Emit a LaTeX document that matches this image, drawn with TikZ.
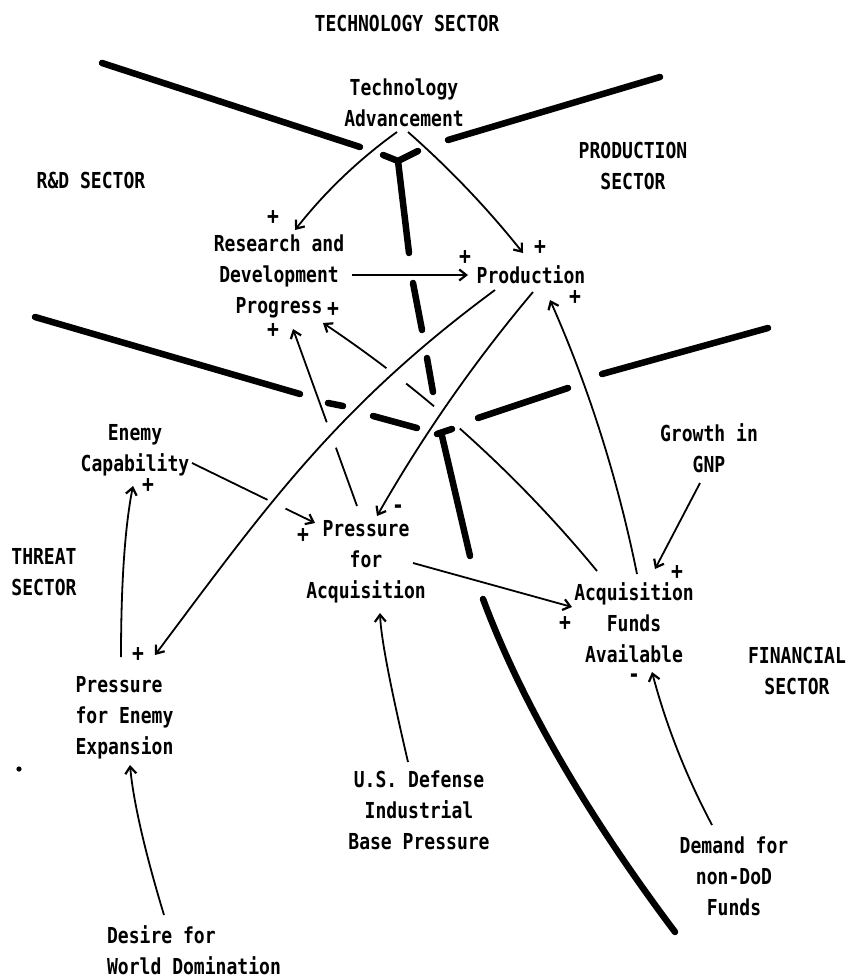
\documentclass[tikz,border=0pt]{standalone}
\usepackage{fontspec}
\newfontfamily\dm[FakeStretch=0.82]{DejaVu Sans Mono Bold}
\usetikzlibrary{arrows.meta,calc}
\tikzset{
  lbl/.style={font=\dm\fontsize{22}{31}\selectfont, align=center, inner sep=0pt},
  lbll/.style={lbl, align=left},
  sgn/.style={font=\dm\fontsize{24}{26}\selectfont, inner sep=0pt},
  link/.style={line width=1.8pt, -{Straight Barb[length=7pt,width=11pt,line width=2.2pt]}},
  wall/.style={line width=6.5pt, line cap=round, line join=round},
}
\begin{document}
\begin{tikzpicture}[x=1pt,y=-1pt]
\useasboundingbox (0,0) rectangle (851,979);

% ---- sector labels
\node[lbl] (techsec)   at (407,25)  {\strut TECHNOLOGY SECTOR};
\node[lbl] (rdsec)     at (91,182)  {\strut R\&D SECTOR};
\node[lbl] (prodsec)   at (633,168) {\strut PRODUCTION\\\strut SECTOR};
\node[lbl] (threatsec) at (44,574)  {\strut THREAT\\\strut SECTOR};
\node[lbl] (finsec)    at (797,673) {\strut FINANCIAL\\\strut SECTOR};

% ---- variables
\node[lbl]  (tech)   at (404,104.5) {\strut Technology\\\strut Advancement};
\node[lbl]  (rd)     at (279,276)   {\strut Research and\\\strut Development\\\strut Progress};
\node[lbl]  (prod)   at (531,277)   {\strut Production};
\node[lbl]  (ec)     at (135,450)   {\strut Enemy\\\strut Capability};
\node[lbl]  (pfa)    at (366,561)   {\strut Pressure\\\strut for\\\strut Acquisition};
\node[lbl]  (gnp)    at (709,451)   {\strut Growth in\\\strut GNP};
\node[lbl]  (af)     at (634,625)   {\strut Acquisition\\\strut Funds\\\strut Available};
\node[lbll] (pfee)   at (124.5,717) {\strut Pressure\\\strut for Enemy\\\strut Expansion};
\node[lbl]  (usd)    at (419,812)   {\strut U.S. Defense\\\strut Industrial\\\strut Base Pressure};
\node[lbl]  (dem)    at (734,878)   {\strut Demand for\\\strut non-DoD\\\strut Funds};
\node[lbll] (desire) at (194,953)   {\strut Desire for\\\strut World Domination};

\fill (19,769) circle (2.6pt);

% ---- sector boundaries
\draw[wall] (102,63) -- (360,147);
\draw[wall] (448,140) -- (660,77);
\draw[wall] (383,155) -- (398,161) -- (418,151);
\draw[wall] (398,161) -- (409,253);
\draw[wall] (413,283) -- (422,330);
\draw[wall] (427,358) -- (433,392);
\draw[wall] (35,317) -- (300,394);
\draw[wall] (328,403) -- (343,406);
\draw[wall] (373,416) -- (417,428);
\draw[wall] (768,328) -- (602,374);
\draw[wall] (568,388) -- (478,418);
\draw[wall] (437,434) -- (452,429);
\draw[wall] (442,436) -- (470,556);
\draw[wall] (483,599) .. controls (521,701) and (585,812) .. (675,932);

% ---- links
\draw[link] ($(tech)+(-7,27.5)$) .. controls (358,160) and (324,193) .. ($(rd)+(16,-46)$);
\draw[link] ($(tech)+(4,27.5)$) .. controls (450,169) and (488,209) .. ($(prod)+(-8,-24)$);
\draw[link] ($(rd)+(73,-1)$) -- ($(prod)+(-63,-2)$);
\draw[link] ($(prod)+(-36,13)$) .. controls (335,408) and (263,511) .. ($(pfee)+(30.5,-62)$);
\draw[link] ($(prod)+(2,15)$) .. controls (474,362) and (422,437) .. ($(pfa)+(11,-45)$);
\draw[link] ($(af)+(3,-51)$) .. controls (618,480) and (589,388) .. ($(prod)+(19,23)$);
\draw[link, dash pattern=on 198pt off 34pt on 36pt off 25pt on 300pt]
  ($(af)+(-37,-54)$) .. controls (518,475) and (426,392) .. ($(rd)+(44,47)$);
\draw[link, dash pattern=on 62pt off 27pt on 300pt]
  ($(pfa)+(-9,-55)$) -- ($(rd)+(14,53)$);
\draw[link, dash pattern=on 84pt off 20pt on 200pt]
  ($(ec)+(57,13)$) -- ($(pfa)+(-51,-38)$);
\draw[link] ($(pfee)+(-3.5,-60)$) .. controls (121,583) and (125,526) .. ($(ec)+(-2,36)$);
\draw[link] ($(gnp)+(-9,32)$) -- ($(af)+(21,-56)$);
\draw[link] ($(pfa)+(47,2)$) -- ($(af)+(-62,-18)$);
\draw[link] ($(dem)+(-22,-53)$) .. controls (686,776) and (666,725) .. ($(af)+(18,47)$);
\draw[link] ($(usd)+(-11,-50)$) .. controls (391,689) and (381,639) .. ($(pfa)+(14,52)$);
\draw[link] ($(desire)+(-30,-38)$) .. controls (144,849) and (133,799) .. ($(pfee)+(5.5,48)$);

% ---- polarity signs
\node[sgn] (s1)  at (273,218) {+};
\node[sgn] (s2)  at (540,248) {+};
\node[sgn] (s3)  at (465,258) {+};
\node[sgn] (s4)  at (333,310) {+};
\node[sgn] (s5)  at (273,331) {+};
\node[sgn] (s6)  at (575,298) {+};
\node[sgn] (s7)  at (398,509) {-};
\node[sgn] (s8)  at (303,536) {+};
\node[sgn] (s9)  at (148,486) {+};
\node[sgn] (s10) at (138,655) {+};
\node[sgn] (s11) at (677,573) {+};
\node[sgn] (s12) at (565,624) {+};
\node[sgn] (s13) at (634,678) {-};
\end{tikzpicture}
\end{document}
